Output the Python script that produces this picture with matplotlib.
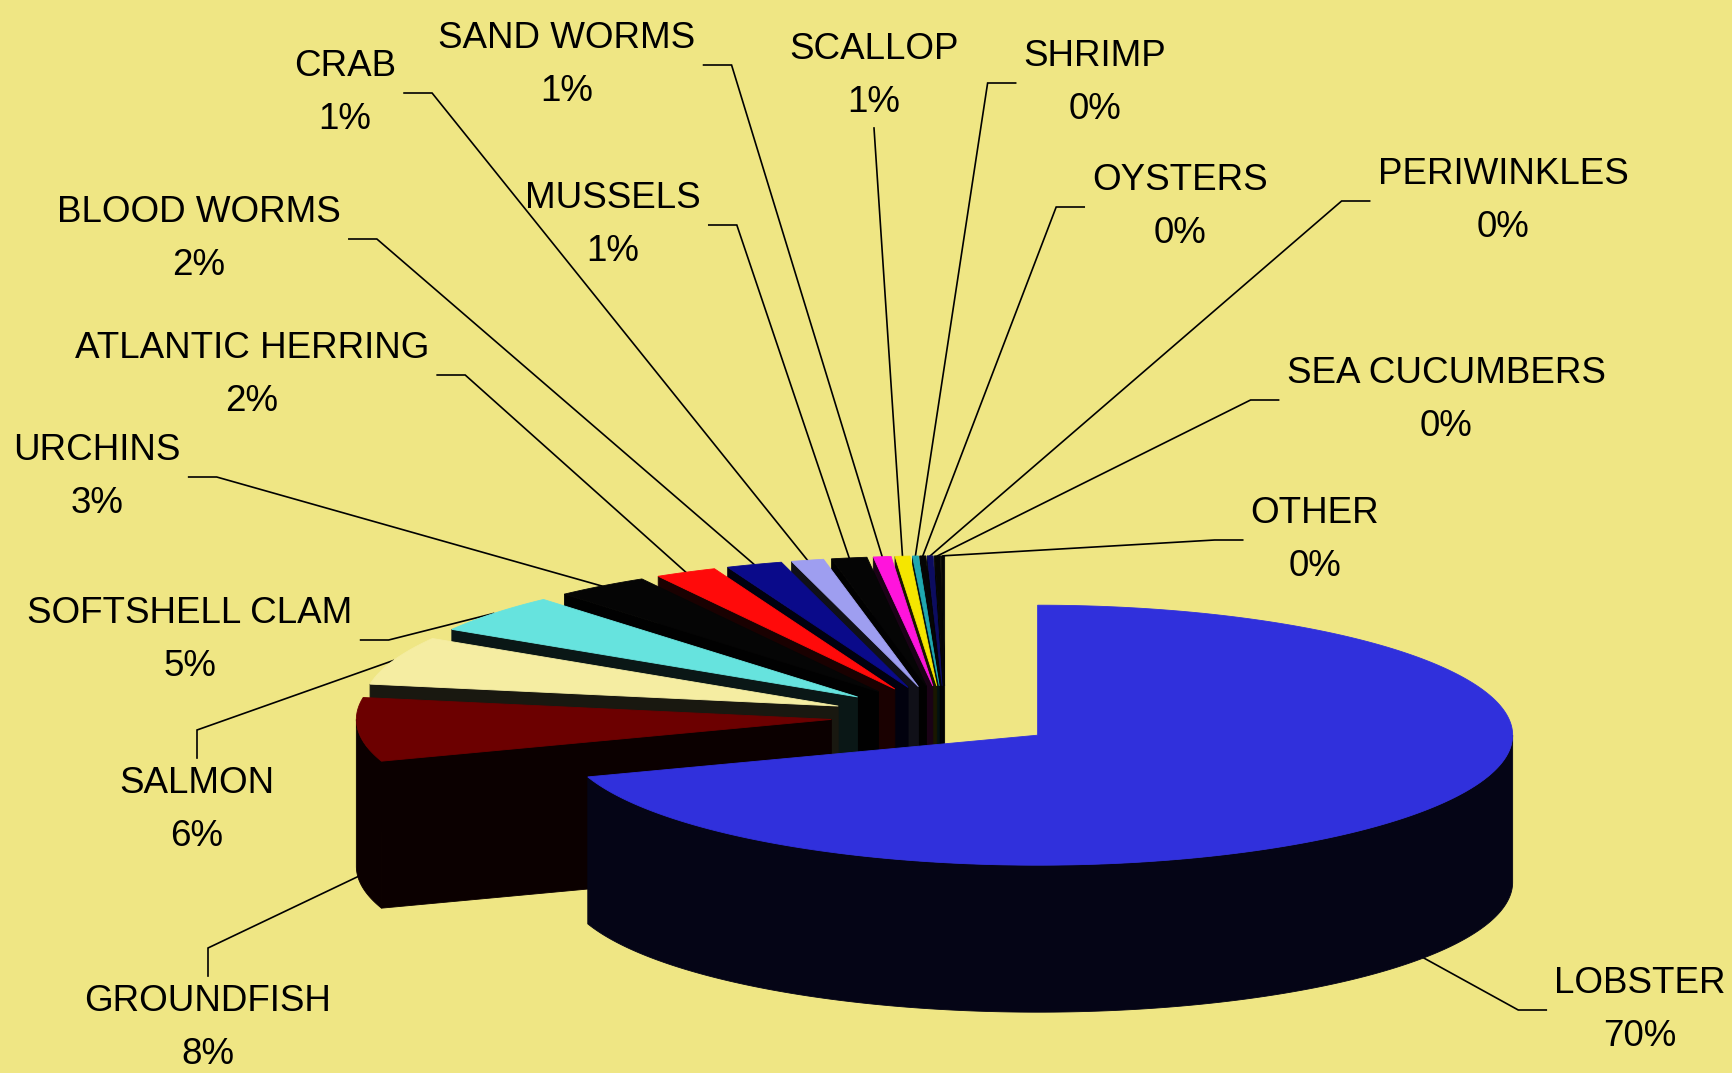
import numpy as np
import matplotlib
matplotlib.use("Agg")
import matplotlib.pyplot as plt
from matplotlib.patches import Polygon
from matplotlib.colors import to_rgb
from matplotlib.transforms import Bbox
from matplotlib import font_manager

# share of landings value by species (percent)
species = ['LOBSTER', 'GROUNDFISH', 'SALMON', 'SOFTSHELL CLAM', 'URCHINS',
           'ATLANTIC HERRING', 'BLOOD WORMS', 'CRAB', 'MUSSELS', 'SAND WORMS',
           'SCALLOP', 'SHRIMP', 'OYSTERS', 'PERIWINKLES', 'SEA CUCUMBERS', 'OTHER']
share = [69.8, 7.9, 6.0, 4.8, 3.2, 2.1, 1.9, 1.1, 1.2, 0.6, 0.5,
         0.2, 0.2, 0.2, 0.2, 0.1]
slice_colors = ['#3030DC', '#6C0000', '#F5EDA2', '#66E3DE', '#050505',
                '#FF0A0A', '#0A0A8A', '#9E9EF0', '#050505', '#FF14DC',
                '#F5E600', '#1FA8B0', '#050505', '#0C0C60', '#050505', '#050505']

# label block centres (pixels) and the side the leader line leaves from
label_pos = [(1640, 1004), (208, 1022), (197, 804), (190, 634), (97, 471),
             (252, 369), (199, 233), (345, 87), (613, 219), (567, 59),
             (874, 70), (1095, 77), (1180, 201), (1503, 195), (1446, 394),
             (1315, 534)]
leader_side = ['left', 'top', 'top', 'right', 'right', 'right', 'right', 'right',
               'right', 'right', 'bottom', 'left', 'left', 'left', 'left', 'left']

bg = '#EFE684'
W, H = 1733, 1073

try:
    font_manager.findfont('Liberation Sans Narrow', fallback_to_default=False)
    label_font, label_size = 'Liberation Sans Narrow', 31
except ValueError:
    label_font, label_size = 'Liberation Sans', 26.5

fig = plt.figure(figsize=(W / 100, H / 100), dpi=100, facecolor=bg)
ax = fig.add_axes([0, 0, 1, 1])
ax.set_xlim(0, W)
ax.set_ylim(H, 0)
ax.axis('off')

# tilted 3D pie: ellipse radii, rim thickness, explode fraction
cx, cy = 945, 717
rx, ry = 475, 130
depth = 147
explode = 0.24

frac = np.array(share) / np.sum(share)
bounds = np.concatenate([[0], np.cumsum(frac) * 360])


def rim(ox, oy, ang, drop=0.0):
    t = np.radians(np.atleast_1d(ang))
    return np.column_stack([ox + rx * np.sin(t), oy - ry * np.cos(t) + drop])


walls, tops, anchors = [], [], []
for i, col in enumerate(slice_colors):
    a1, a2 = bounds[i], bounds[i + 1]
    am = (a1 + a2) / 2
    ox = cx + explode * rx * np.sin(np.radians(am))
    oy = cy - explode * ry * np.cos(np.radians(am))
    arc = np.linspace(a1, a2, int(a2 - a1) * 2 + 3)
    tops.append((np.vstack([[ox, oy], rim(ox, oy, arc)]), col))
    shade = tuple(np.array(to_rgb(col)) * 0.1)

    # outer rim, only the half that faces the viewer
    lo, hi = max(a1, 90), min(a2, 270)
    if hi > lo:
        seg = np.linspace(lo, hi, int(hi - lo) * 2 + 3)
        top_edge = rim(ox, oy, seg)
        poly = np.vstack([top_edge, rim(ox, oy, seg[::-1], depth)])
        walls.append((top_edge[:, 1].mean(), poly, shade))

    # cut faces along the two radii
    for ang, visible in ((a1, np.sin(np.radians(a1)) < -1e-6),
                         (a2, np.sin(np.radians(a2)) > 1e-6)):
        if visible:
            p = rim(ox, oy, ang)[0]
            poly = np.array([[ox, oy], p, p + [0, depth], [ox, oy + depth]])
            walls.append(((oy + p[1]) / 2, poly, shade))

    if 90 < am < 270:
        anchors.append(rim(ox, oy, am, depth)[0])
    else:
        anchors.append(rim(ox, oy, am)[0])

for _, poly, shade in sorted(walls, key=lambda w: w[0]):
    ax.add_patch(Polygon(poly, closed=True, facecolor=shade, edgecolor=shade,
                         lw=0.6, zorder=2))
for poly, col in tops:
    ax.add_patch(Polygon(poly, closed=True, facecolor=col, edgecolor=col,
                         lw=0.6, zorder=3))

# data labels
pct = frac * 100
pairs = []
for i, name in enumerate(species):
    x, y = label_pos[i]
    t1 = ax.text(x, y - 11, name, ha='center', va='baseline', fontsize=label_size,
                 family=label_font, color='black', zorder=5)
    t2 = ax.text(x, y + 42, f"{int(np.floor(pct[i] + 0.5))}%", ha='center',
                 va='baseline', fontsize=label_size, family=label_font,
                 color='black', zorder=5)
    pairs.append((t1, t2))

fig.canvas.draw()
renderer = fig.canvas.get_renderer()
inv = ax.transData.inverted()
gap, stub = 8, 28
for (t1, t2), side, anc in zip(pairs, leader_side, anchors):
    bb = Bbox.union([t1.get_window_extent(renderer), t2.get_window_extent(renderer)])
    (x0, ya), (x1, yb) = inv.transform([[bb.x0, bb.y0], [bb.x1, bb.y1]])
    top, bottom = min(ya, yb), max(ya, yb)
    xm, ym = (x0 + x1) / 2, (top + bottom) / 2
    if side == 'right':
        pts = [(x1 + gap, ym), (x1 + gap + stub, ym), anc]
    elif side == 'left':
        pts = [(x0 - gap, ym), (x0 - gap - stub, ym), anc]
    elif side == 'top':
        pts = [(xm, top - gap), (xm, top - gap - stub), anc]
    else:
        pts = [(xm, bottom + gap), anc]
    xs, ys = zip(*pts)
    ax.plot(xs, ys, color='black', lw=1.2, zorder=1.5, solid_joinstyle='miter')

fig.savefig('out.png', dpi=100, facecolor=bg)
